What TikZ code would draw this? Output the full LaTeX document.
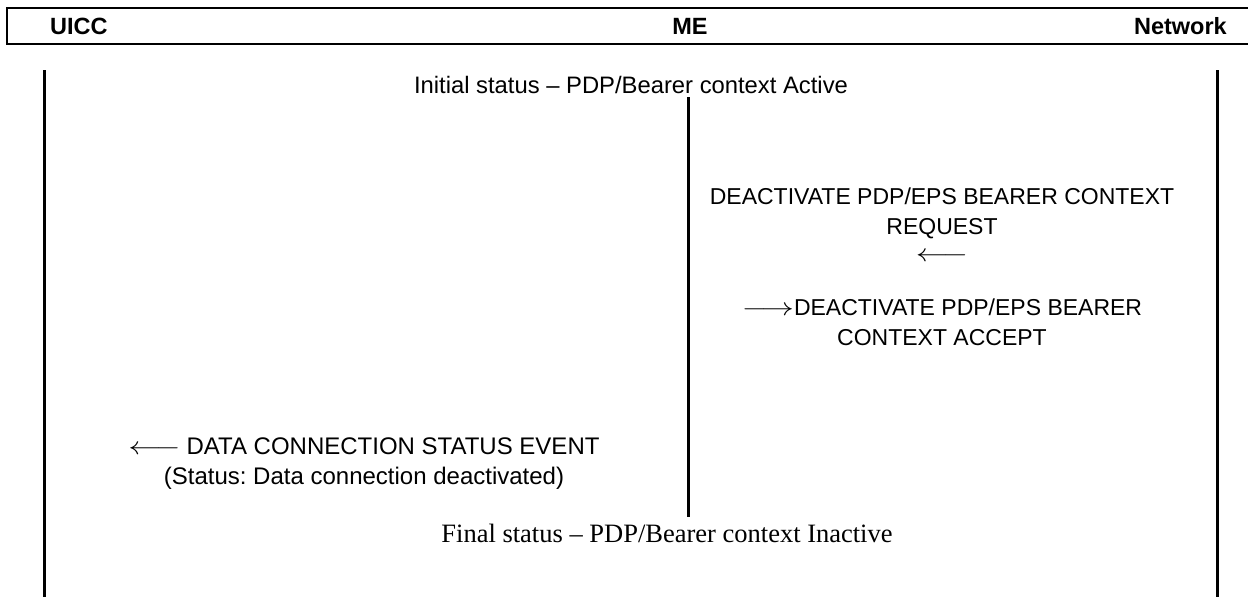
\documentclass[tikz,border=0pt]{standalone}
\usepackage{fontspec}
\setmainfont{Liberation Sans}
\newfontfamily\timesfont{Liberation Serif}
\frenchspacing
\newcommand{\larr}{\scalebox{1.3}[1]{$\longleftarrow$}}
\newcommand{\rarr}{\scalebox{1.3}[1]{$\longrightarrow$}}
\begin{document}
\begin{tikzpicture}[x=1pt,y=-1pt,
  hdr/.style={font=\fontsize{23.5}{27}\selectfont\bfseries, inner sep=0pt},
  msg/.style={font=\fontsize{23}{30}\selectfont\frenchspacing, align=center, inner sep=0pt},
  life/.style={line width=3pt},
  boxline/.style={line width=2pt}]
\useasboundingbox (0,0) rectangle (1248,597);
% header
\draw[boxline] (1260,8) -- (7,8) -- (7,44) -- (1260,44);
\node[hdr, anchor=west] (uicc) at (50,26) {UICC};
\node[hdr] (me) at (690,26) {ME};
\node[hdr, anchor=east] (net) at (1227,26) {Network};
% lifelines
\coordinate (uiccTop) at (44,70);
\coordinate (uiccBot) at (44,597);
\coordinate (netTop) at (1217,70);
\coordinate (netBot) at (1217,597);
\coordinate (meTop) at (688,97);
\coordinate (meBot) at (688,517);
\draw[life] (uiccTop) -- (uiccBot);
\draw[life] (netTop) -- (netBot);
\draw[life] (meTop) -- (meBot);
% texts
\node[msg, font=\fontsize{23.8}{30}\selectfont] (init) at (631,85) {Initial status – PDP/Bearer context Active};
\node[msg] (req) at (942,213) {DEACTIVATE PDP/EPS BEARER CONTEXT\\REQUEST};
\node[msg] (reqarr) at (942,257) {\larr};
\node[msg] (acc) at (942,322) {\rarr DEACTIVATE PDP/EPS BEARER\\CONTEXT ACCEPT};
\node[msg, font=\fontsize{24}{30}\selectfont\frenchspacing] (evt) at (364,464) {\larr\hspace{0.25em}DATA CONNECTION STATUS EVENT\\(Status: Data connection deactivated)};
\node[font=\timesfont\fontsize{26.5}{30}\selectfont, inner sep=0pt] (fin) at (667,533) {Final status – PDP/Bearer context Inactive};
\end{tikzpicture}
\end{document}
